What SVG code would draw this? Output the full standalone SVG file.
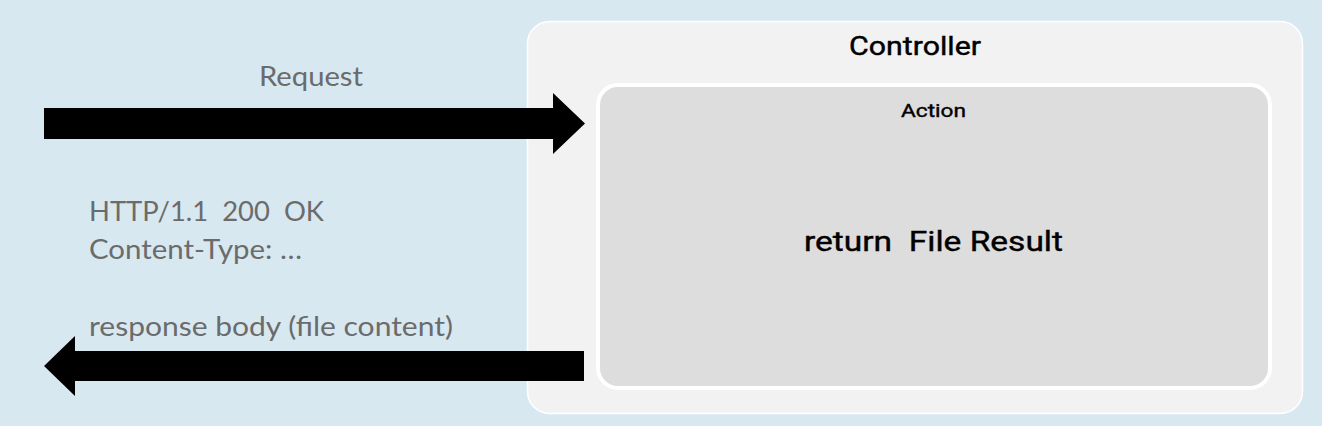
<svg xmlns="http://www.w3.org/2000/svg" width="1322" height="426" viewBox="0 0 1322 426">
<style>
.gray{font-family:Lato,"Open Sans",sans-serif;font-size:26px;fill:#6b6b6b;white-space:pre}
.din{font-family:Roboto,"DejaVu Sans",sans-serif;fill:#000;white-space:pre;stroke:#000;stroke-width:0.4}
.arrow{fill:#000}
</style>
<rect width="1322" height="426" fill="#d7e8f1"/>
<g id="controller">
<rect x="527.5" y="21.5" width="775" height="392" rx="22" fill="#f2f2f2" stroke="#ffffff" stroke-width="1.5"/>
<text class="din" x="915" y="55" font-size="25" text-anchor="middle" textLength="132" lengthAdjust="spacingAndGlyphs">Controller</text>
</g>
<g id="action">
<rect x="598" y="85" width="672" height="303" rx="20" fill="#dddddd" stroke="#ffffff" stroke-width="4"/>
<text class="din" x="933.5" y="117" font-size="19" text-anchor="middle" textLength="65" lengthAdjust="spacingAndGlyphs">Action</text>
<text class="din" x="933.5" y="250.5" font-size="27" text-anchor="middle" textLength="259" lengthAdjust="spacingAndGlyphs">return  File Result</text>
</g>
<g id="connectors">
<polygon class="arrow" points="44,108 553,108 553,93 585,123.5 553,154 553,139 44,139"/>
<polygon class="arrow" points="584,351 75,351 75,336 44,366 75,396 75,381 584,381"/>
</g>
<g id="labels">
<text class="gray" x="311" y="86" text-anchor="middle" textLength="104" lengthAdjust="spacingAndGlyphs">Request</text>
<text class="gray" x="89" y="221" textLength="235" lengthAdjust="spacingAndGlyphs">HTTP/1.1  200  OK</text>
<text class="gray" x="89" y="259" textLength="213" lengthAdjust="spacingAndGlyphs">Content-Type: …</text>
<text class="gray" x="89" y="336" textLength="364" lengthAdjust="spacingAndGlyphs">response body (file content)</text>
</g>
</svg>
